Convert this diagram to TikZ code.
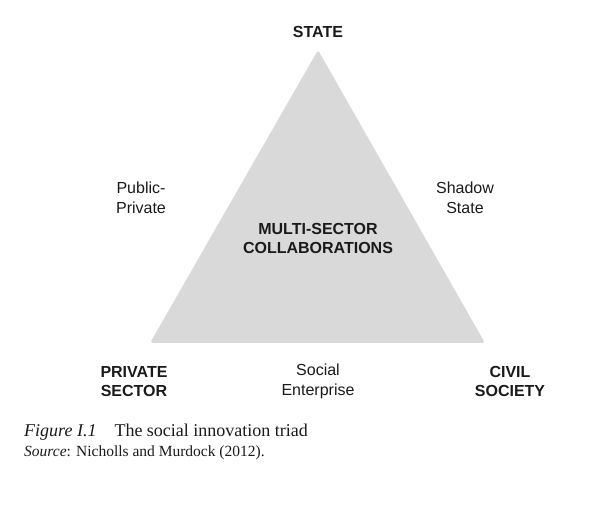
\documentclass[tikz,border=0pt]{standalone}
\usepackage{fontspec}
\setmainfont{Liberation Serif}
\setsansfont{Liberation Sans}
\definecolor{triadgray}{HTML}{D9D9D9}
\definecolor{ink}{HTML}{1A1A1A}
\begin{document}
\begin{tikzpicture}[x=1pt,y=-1pt,
		lbl/.style={text=ink,align=center,font=\sffamily\fontsize{16}{19.5}\selectfont},
		sector/.style={lbl,font=\sffamily\bfseries\fontsize{16}{19.5}\selectfont}]
	\useasboundingbox (0,0) rectangle (610,518);
	% the triad
	\coordinate (apex) at (318,50);
	\coordinate (baseL) at (150,343);
	\coordinate (baseR) at (485,343);
	\fill[triadgray,rounded corners=3pt] (apex) -- (baseL) -- (baseR) -- cycle;
	% corners
	\node[sector] (state) at (318,32) {STATE};
	\node[sector] (private) at (134,381.5) {PRIVATE\\SECTOR};
	\node[sector] (civil) at (510,381.5) {CIVIL\\SOCIETY};
	% sides
	\node[lbl] (pubpriv) at (141,198) {Public-\\Private};
	\node[lbl] (shadow) at (465,198) {Shadow\\State};
	\node[lbl] (socent) at (318,381.5) {Social\\Enterprise};
	\node[sector] (multi) at (318,238.5) {MULTI-SECTOR\\COLLABORATIONS};
	% caption
	\node[anchor=base west,inner sep=0pt,text=ink,font=\fontsize{18}{20}\selectfont] (caption) at (24,436) {\textit{Figure I.1}\quad The social innovation triad};
	\node[anchor=base west,inner sep=0pt,text=ink,font=\fontsize{15.5}{17}\selectfont] (source) at (24,456) {\textit{Source}: Nicholls and Murdock (2012).};
\end{tikzpicture}
\end{document}
